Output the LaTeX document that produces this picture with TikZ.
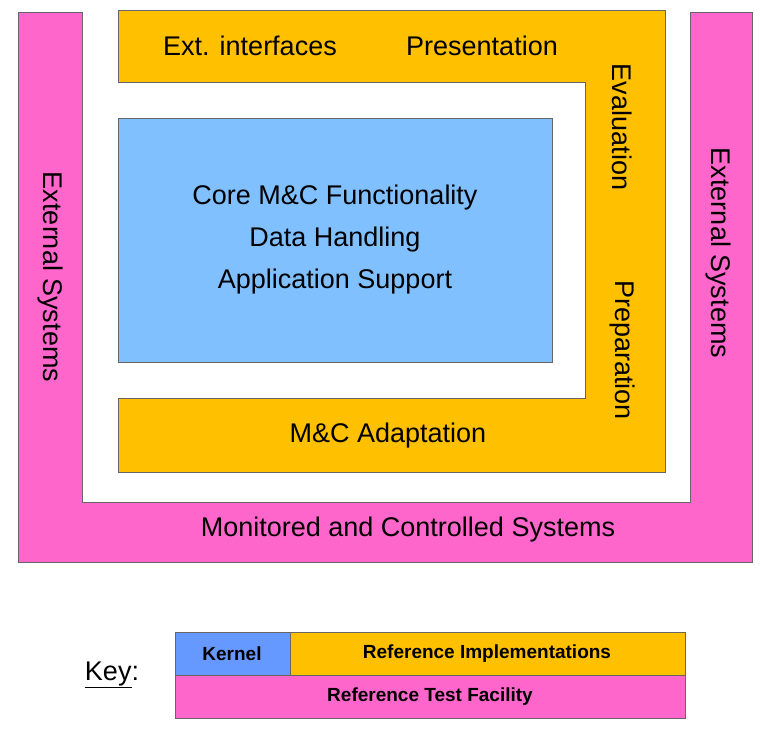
\documentclass[tikz,border=0pt]{standalone}
\usepackage{fontspec}
\setmainfont{Liberation Sans}
\begin{document}
\begin{tikzpicture}[x=1pt,y=-1pt,
  pinkc/.style={fill=pinkk,draw=gray!80!black,line width=0.8pt},
  orc/.style={fill=orng,draw=gray!80!black,line width=0.8pt},
  big/.style={font=\fontsize{27}{32}\selectfont,align=center},
  keyt/.style={font=\fontsize{19}{22}\selectfont\bfseries}]
\definecolor{pinkk}{HTML}{FF66CC}
\definecolor{orng}{HTML}{FFC000}
\definecolor{lblue}{HTML}{80C0FF}
\definecolor{kblue}{HTML}{6699FF}
\useasboundingbox (0,0) rectangle (768,732);
\fill[white] (0,0) rectangle (768,732);
% pink U
\draw[pinkc] (18,12) -- (82,12) -- (82,502) -- (690,502) -- (690,12) -- (752,12) -- (752,562) -- (18,562) -- cycle;
% orange
\draw[orc] (118,10) -- (665,10) -- (665,472) -- (118,472) -- (118,398) -- (585,398) -- (585,82) -- (118,82) -- cycle;
% blue
\node[draw=gray!80!black,fill=lblue,minimum width=434pt,minimum height=244pt,anchor=north west,inner sep=0,line width=0.8pt] (core) at (118,118) {};
\node[big,font=\fontsize{27}{42}\selectfont] (coret) at (335,240) {Core M\&C Functionality\\Data Handling\\Application Support};
\node[big] (ext) at (250,46) {Ext. interfaces};
\node[big] (pres) at (482,46) {Presentation};
\node[big,rotate=-90] (eval) at (622,127) {Evaluation};
\node[big,rotate=-90] (prep) at (622,350) {Preparation};
\node[big] (adapt) at (388,436) {M\&C Adaptation};
\node[big] (mon) at (408,530) {Monitored and Controlled Systems};
\node[big,rotate=-90] (extl) at (50,277) {External Systems};
\node[big,rotate=-90] (extr) at (718,253) {External Systems};
% key
\draw[draw=gray!80!black,fill=kblue,line width=0.8pt] (175,632) rectangle (290,675);
\draw[draw=gray!80!black,fill=orng,line width=0.8pt] (290,632) rectangle (685,675);
\draw[draw=gray!80!black,fill=pinkk,line width=0.8pt] (175,675) rectangle (685,718);
\node[keyt] (kk) at (232,654) {Kernel};
\node[keyt] (kr) at (487,654) {Reference Implementations};
\node[keyt] (kt) at (430,697) {Reference Test Facility};
\node[font=\fontsize{27}{32}\selectfont] (key) at (112,675) {\underline{Key}:};
\end{tikzpicture}
\end{document}
